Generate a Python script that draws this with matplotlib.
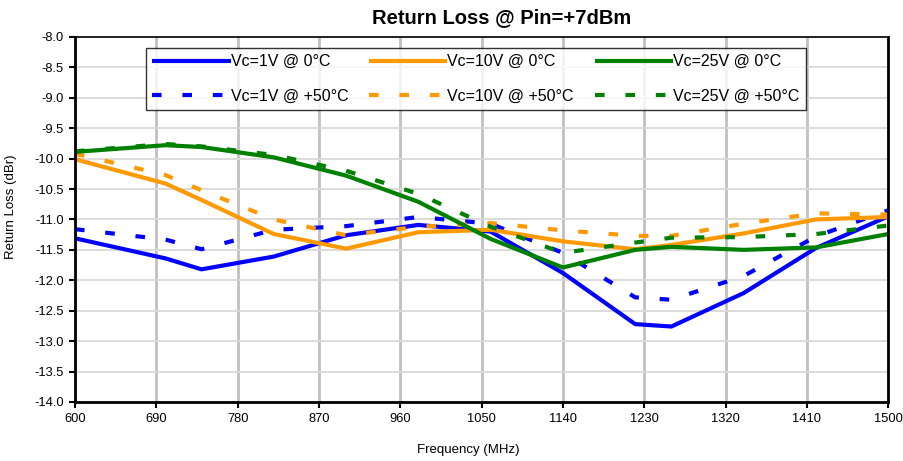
import numpy as np
import matplotlib
matplotlib.use('Agg')
import matplotlib.pyplot as plt

plt.rcParams['font.family'] = ['Liberation Sans', 'DejaVu Sans']

# frequency points (MHz)
freq = [600, 700, 740, 820, 900, 980, 1060, 1140, 1220, 1260, 1340, 1420, 1500]

# return loss (dBr)
vc1_0 = [-11.31, -11.64, -11.82, -11.61, -11.26, -11.09, -11.20, -11.88, -12.72, -12.76, -12.21, -11.47, -10.95]
vc1_50 = [-11.16, -11.33, -11.49, -11.17, -11.11, -10.96, -11.07, -11.55, -12.28, -12.32, -11.93, -11.28, -10.85]
vc10_0 = [-10.01, -10.41, -10.68, -11.24, -11.48, -11.21, -11.17, -11.36, -11.49, -11.42, -11.23, -11.00, -10.96]
vc10_50 = [-9.92, -10.27, -10.52, -11.00, -11.26, -11.12, -11.06, -11.18, -11.27, -11.27, -11.07, -10.90, -10.92]
vc25_0 = [-9.89, -9.78, -9.81, -9.98, -10.28, -10.71, -11.32, -11.79, -11.50, -11.45, -11.50, -11.46, -11.24]
vc25_50 = [-9.88, -9.76, -9.80, -9.94, -10.20, -10.58, -11.12, -11.55, -11.38, -11.30, -11.29, -11.24, -11.10]

labels = ['Vc=1V @ 0°C', 'Vc=1V @ +50°C', 'Vc=10V @ 0°C', 'Vc=10V @ +50°C',
          'Vc=25V @ 0°C', 'Vc=25V @ +50°C']
series = [vc1_0, vc1_50, vc10_0, vc10_50, vc25_0, vc25_50]
colors = ['#0000FF', '#0000FF', '#FF9900', '#FF9900', '#008000', '#008000']
dashed = [False, True, False, True, False, True]

fig = plt.figure(figsize=(9.04, 4.61), dpi=100)
ax = fig.add_axes([0.083, 0.128, 0.8995, 0.792])

for s, c, d, lab in zip(series, colors, dashed, labels):
    if d:
        ax.plot(freq, s, color=c, lw=3, linestyle=(0, (2.3, 5.0)),
                dash_capstyle='butt', label=lab)
    else:
        ax.plot(freq, s, color=c, lw=3, solid_capstyle='butt', label=lab)

ax.set_xlim(600, 1500)
ax.set_ylim(-14, -8)
ax.set_xticks(np.arange(600, 1501, 90))
ax.set_yticks(np.arange(-14, -7.9, 0.5))
ax.yaxis.set_major_formatter(matplotlib.ticker.FormatStrFormatter('%.1f'))

ax.set_axisbelow(True)
ax.xaxis.grid(True, color='#c0c0c0', lw=2)
ax.yaxis.grid(True, color='#d9d9d9', lw=1.3)
for sp in ax.spines.values():
    sp.set_color('black')
    sp.set_linewidth(2)
ax.spines['top'].set_linewidth(1.2)
ax.tick_params(axis='both', direction='out', length=4, width=1.5, labelsize=9.3, pad=4)

ax.set_xlabel('Frequency (MHz)', fontsize=9.5)
ax.xaxis.set_label_coords(0.483, -0.114)
ax.set_ylabel('Return Loss (dBr)', fontsize=9.5)
ax.yaxis.set_label_coords(-0.071, 0.535)
fig.text(0.555, 0.962, 'Return Loss @ Pin=+7dBm', fontsize=14.5, fontweight='bold',
         ha='center', va='center')

leg = ax.legend(ncol=3, loc='upper left', bbox_to_anchor=(0.0873, 0.970),
                fontsize=11.5, handlelength=4.9, handletextpad=0.0,
                columnspacing=1.3, labelspacing=1.2, frameon=True, fancybox=False,
                borderpad=0.4, borderaxespad=0)
leg.get_frame().set_edgecolor('black')
leg.get_frame().set_linewidth(1.0)

plt.savefig('out.png', dpi=100)
